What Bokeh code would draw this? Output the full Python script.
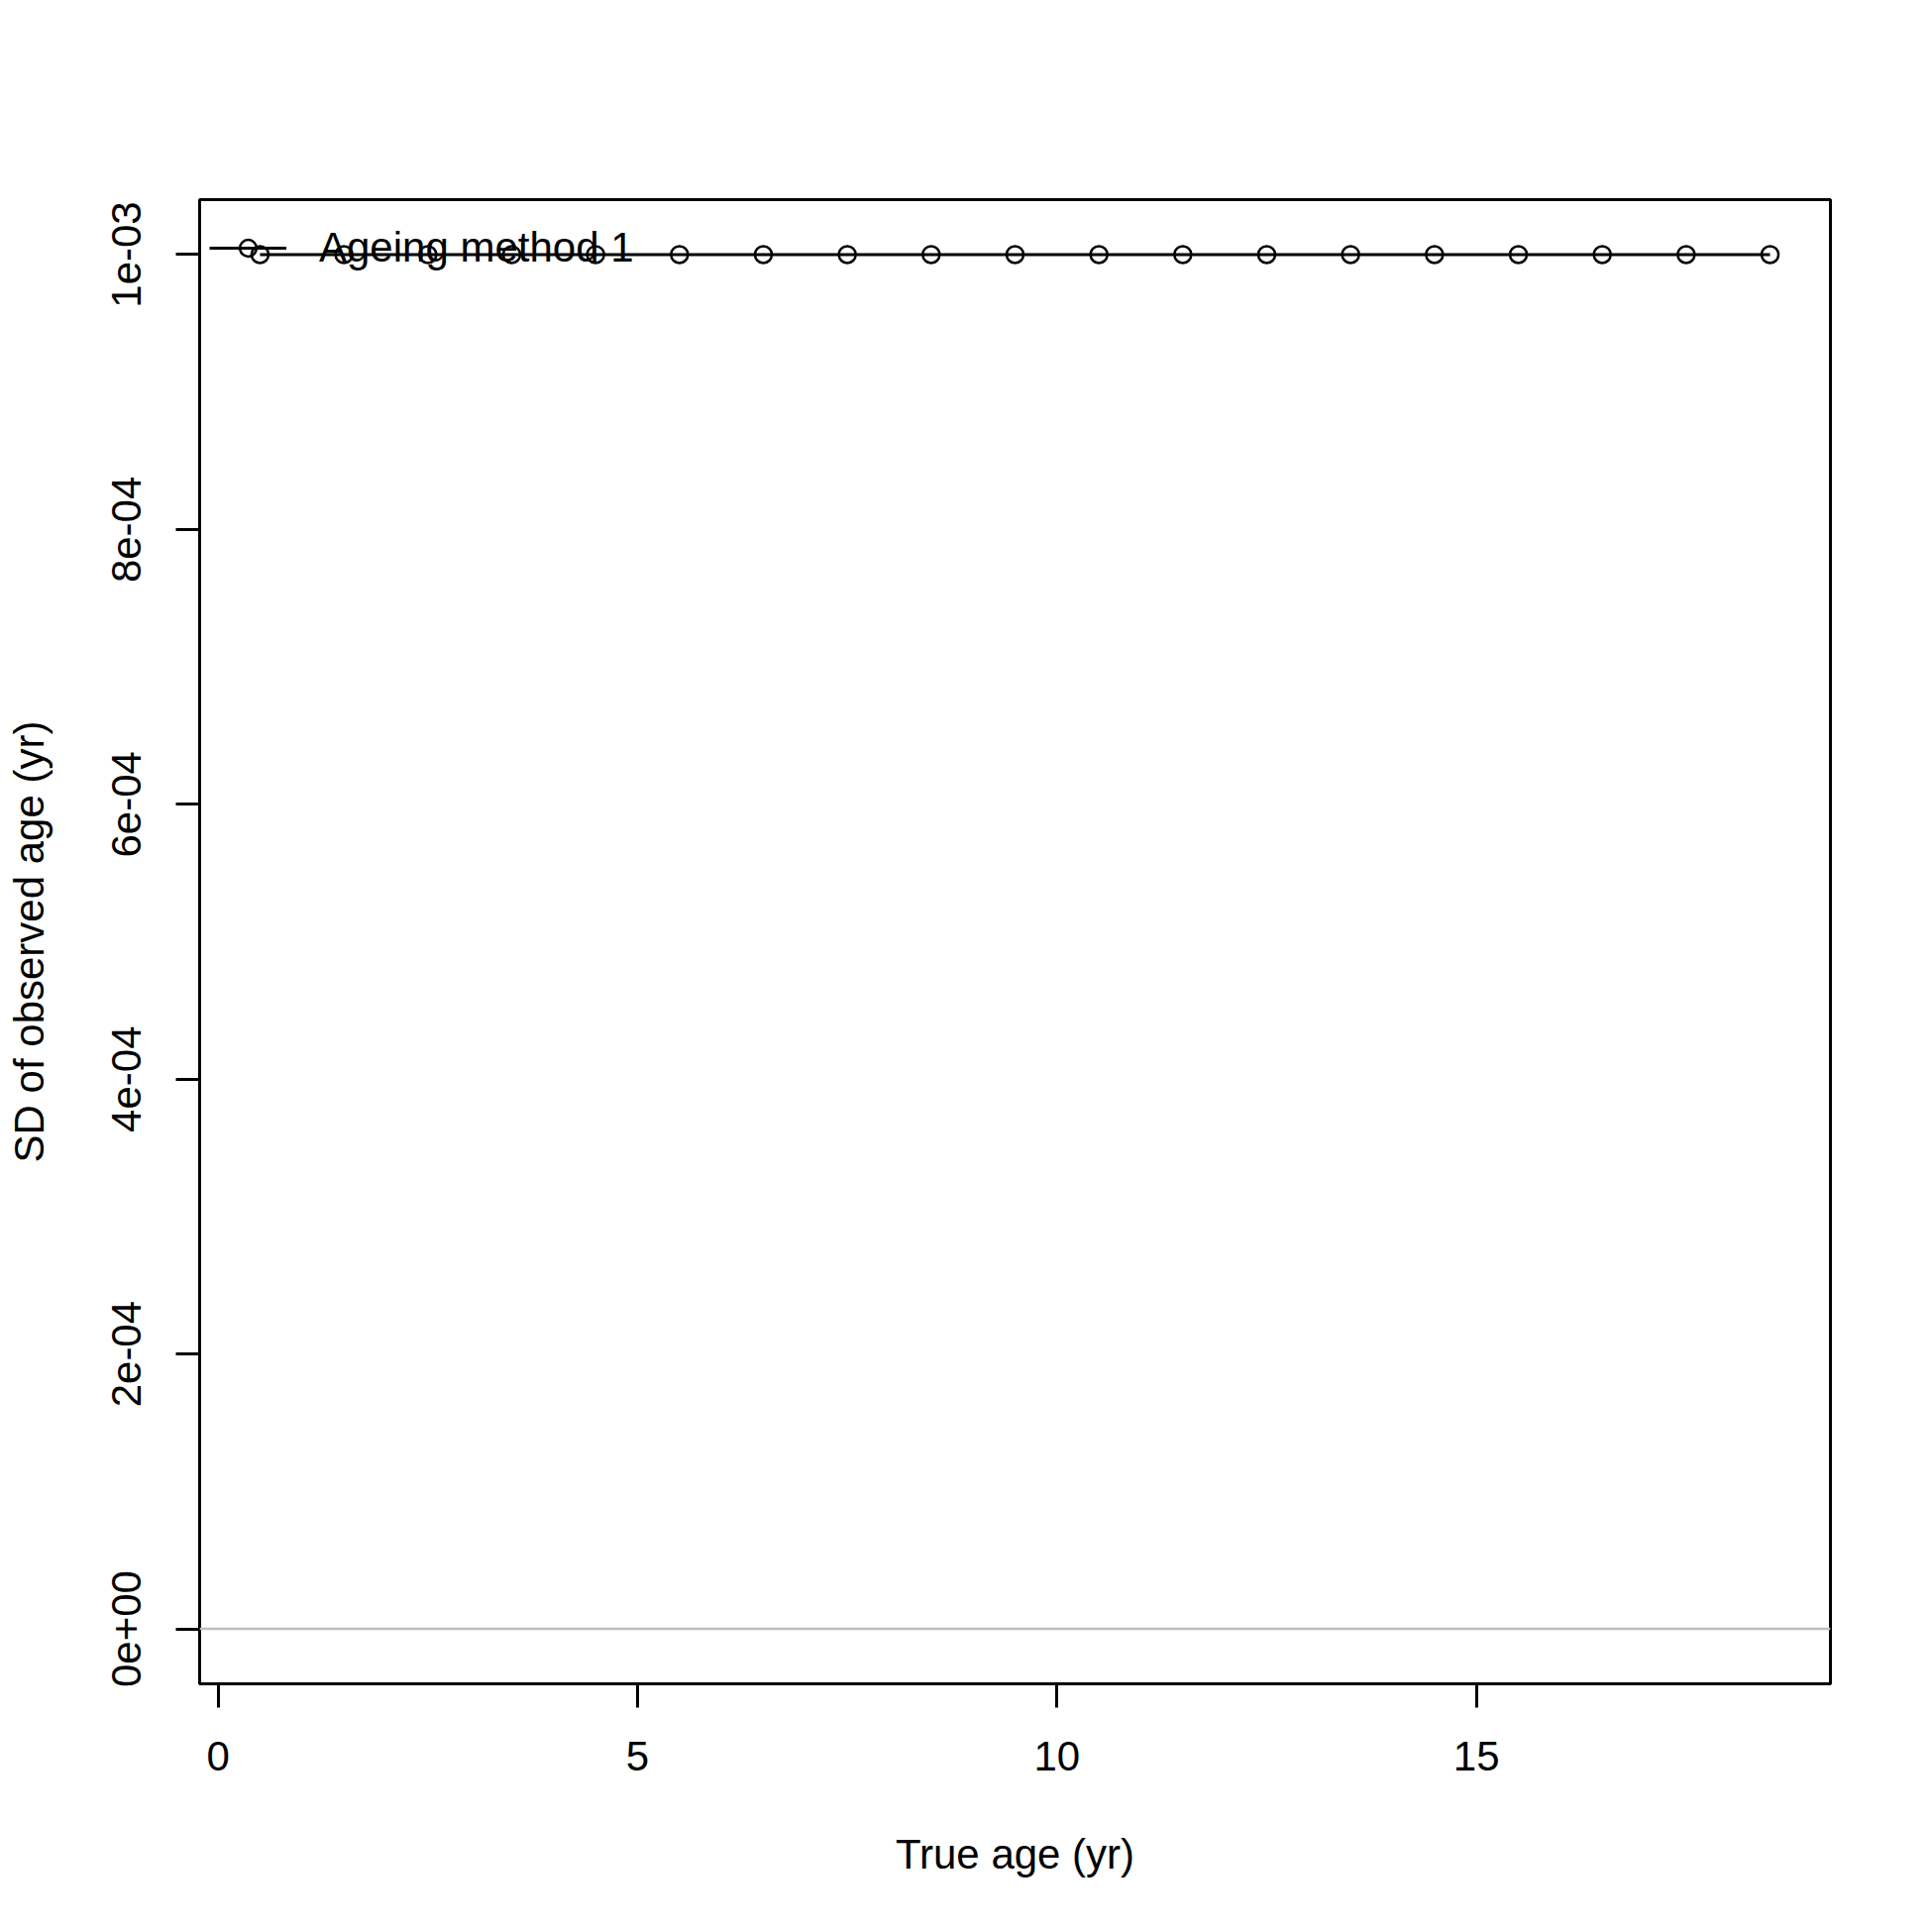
from bokeh.plotting import figure
from bokeh.models import Range1d, FixedTicker, Span, Legend, LegendItem, ColumnDataSource
from bokeh.embed import file_html
from bokeh.resources import INLINE

# Data
true_age = [0.5, 1.5, 2.5, 3.5, 4.5, 5.5, 6.5, 7.5, 8.5, 9.5,
            10.5, 11.5, 12.5, 13.5, 14.5, 15.5, 16.5, 17.5, 18.5]
sd_observed = [0.001, 0.001, 0.001, 0.001, 0.001, 0.001, 0.001, 0.001, 0.001, 0.001,
               0.001, 0.001, 0.001, 0.001, 0.001, 0.001, 0.001, 0.001, 0.001]
series_name = "Ageing method 1"

x_ticks = [0, 5, 10, 15]
y_ticks = [0.0, 0.0002, 0.0004, 0.0006, 0.0008, 0.001]
y_tick_labels = ["0e+00", "2e-04", "4e-04", "6e-04", "8e-04", "1e-03"]

FONT = "Liberation Sans"
FS = "42px"

p = figure(output_backend="svg", toolbar_location=None,
           frame_width=1646, frame_height=1498,
           min_border_left=201, min_border_top=201,
           min_border_right=87, min_border_bottom=235,
           x_range=Range1d(-0.22, 19.22), y_range=Range1d(-0.00004, 0.00104),
           x_axis_label="True age (yr)", y_axis_label="SD of observed age (yr)")

p.background_fill_color = "white"
p.border_fill_color = "white"
p.grid.visible = False
p.outline_line_color = "black"
p.outline_line_width = 3

p.add_layout(Span(location=0, dimension="width", line_color="#BEBEBE", line_width=2.5))

src = ColumnDataSource(dict(x=true_age, y=sd_observed))
r_line = p.line("x", "y", source=src, line_color="black", line_width=3)
r_pts = p.scatter("x", "y", source=src, marker="circle", size=17,
                  fill_color=None, line_color="black", line_width=2.5)

p.xaxis.ticker = FixedTicker(ticks=x_ticks)
p.yaxis.ticker = FixedTicker(ticks=y_ticks)
p.yaxis.major_label_overrides = {t: l for t, l in zip(y_ticks, y_tick_labels)}
p.yaxis.major_label_orientation = "vertical"

for ax in (p.xaxis, p.yaxis):
    ax.axis_line_color = "black"
    ax.axis_line_width = 3
    ax.major_tick_line_color = "black"
    ax.major_tick_line_width = 3
    ax.major_tick_in = 0
    ax.major_tick_out = 24
    ax.minor_tick_line_color = None
    ax.major_label_text_font = FONT
    ax.major_label_text_font_size = FS
    ax.major_label_text_color = "black"
    ax.axis_label_text_font = FONT
    ax.axis_label_text_font_size = FS
    ax.axis_label_text_font_style = "normal"
    ax.axis_label_text_color = "black"

p.xaxis.major_label_standoff = 34
p.yaxis.major_label_standoff = 35
p.xaxis.axis_label_standoff = 58
p.yaxis.axis_label_standoff = 58

legend = Legend(items=[LegendItem(label=series_name, renderers=[r_line, r_pts])],
                location=(10, 1425), margin=0, padding=0,
                glyph_width=78, glyph_height=42, label_standoff=33,
                label_text_font=FONT, label_text_font_size=FS,
                label_text_color="black",
                background_fill_alpha=0, border_line_color=None)
p.add_layout(legend)

open("out.html", "w").write(file_html(p, INLINE))
